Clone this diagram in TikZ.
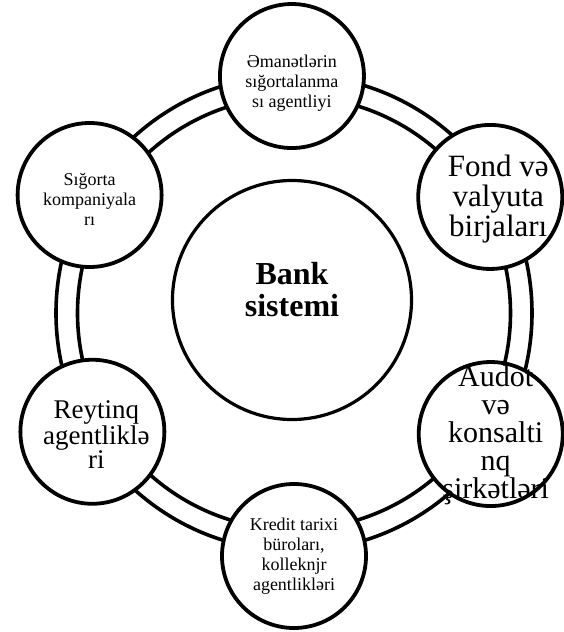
\documentclass[tikz,border=0pt]{standalone}
\usepackage{fontspec}
\setmainfont{Liberation Serif}
\begin{document}
\begin{tikzpicture}[x=1pt,y=1pt,
  ring/.style={line width=3.6pt},
  member/.style={circle,draw,line width=3.8pt,fill=white,minimum size=144pt,inner sep=0pt},
  small/.style={align=center,font=\fontsize{18}{20}\selectfont},
  big/.style={align=center,font=\fontsize{30}{28}\selectfont}]
\useasboundingbox (-294,-319) rectangle (269,313);
\coordinate (O) at (0,0);
% double ring
\draw[ring] (O) circle (238);
\draw[ring] (O) circle (216.5);
% centre
\node[member,line width=3.2pt,minimum size=239pt] (bank) at (-2,13) {};
\node[align=center,font=\bfseries\fontsize{32}{32}\selectfont] (bankt) at ([yshift=10]bank) {Bank\\sistemi};
% circles on the ring
\node[member] (emanet) at (90.5:237) {};
\node[member] (fond) at (30.6:228) {};
\node[member] (audit) at (-31.6:231) {};
\node[member] (kredit) at (-90:243) {};
\node[member] (reyting) at (-149.5:234) {};
\node[member] (sigorta) at (150:236) {};
\node[small] (emanett) at ([yshift=-7]emanet) {Əmanətlərin\\sığortalanma\\sı agentliyi};
\node[big,font=\fontsize{31}{30}\selectfont] (fondt) at ([xshift=8,yshift=-2]fond) {Fond və\\valyuta\\birjaları};
\node[big] (auditt) at ([xshift=5,yshift=-1]audit) {Audot\\və\\konsalti\\nq\\şirkətləri};
\node[small] (kreditt) at (kredit) {Kredit tarixi\\büroları,\\kolleknjr\\agentlikləri};
\node[big,font=\fontsize{27}{23}\selectfont] (reytingt) at ([xshift=4,yshift=-3]reyting) {Reytinq\\agentliklə\\ri};
\node[small] (sigortat) at ([yshift=-4]sigorta) {Sığorta\\kompaniyala\\rı};
\end{tikzpicture}
\end{document}
